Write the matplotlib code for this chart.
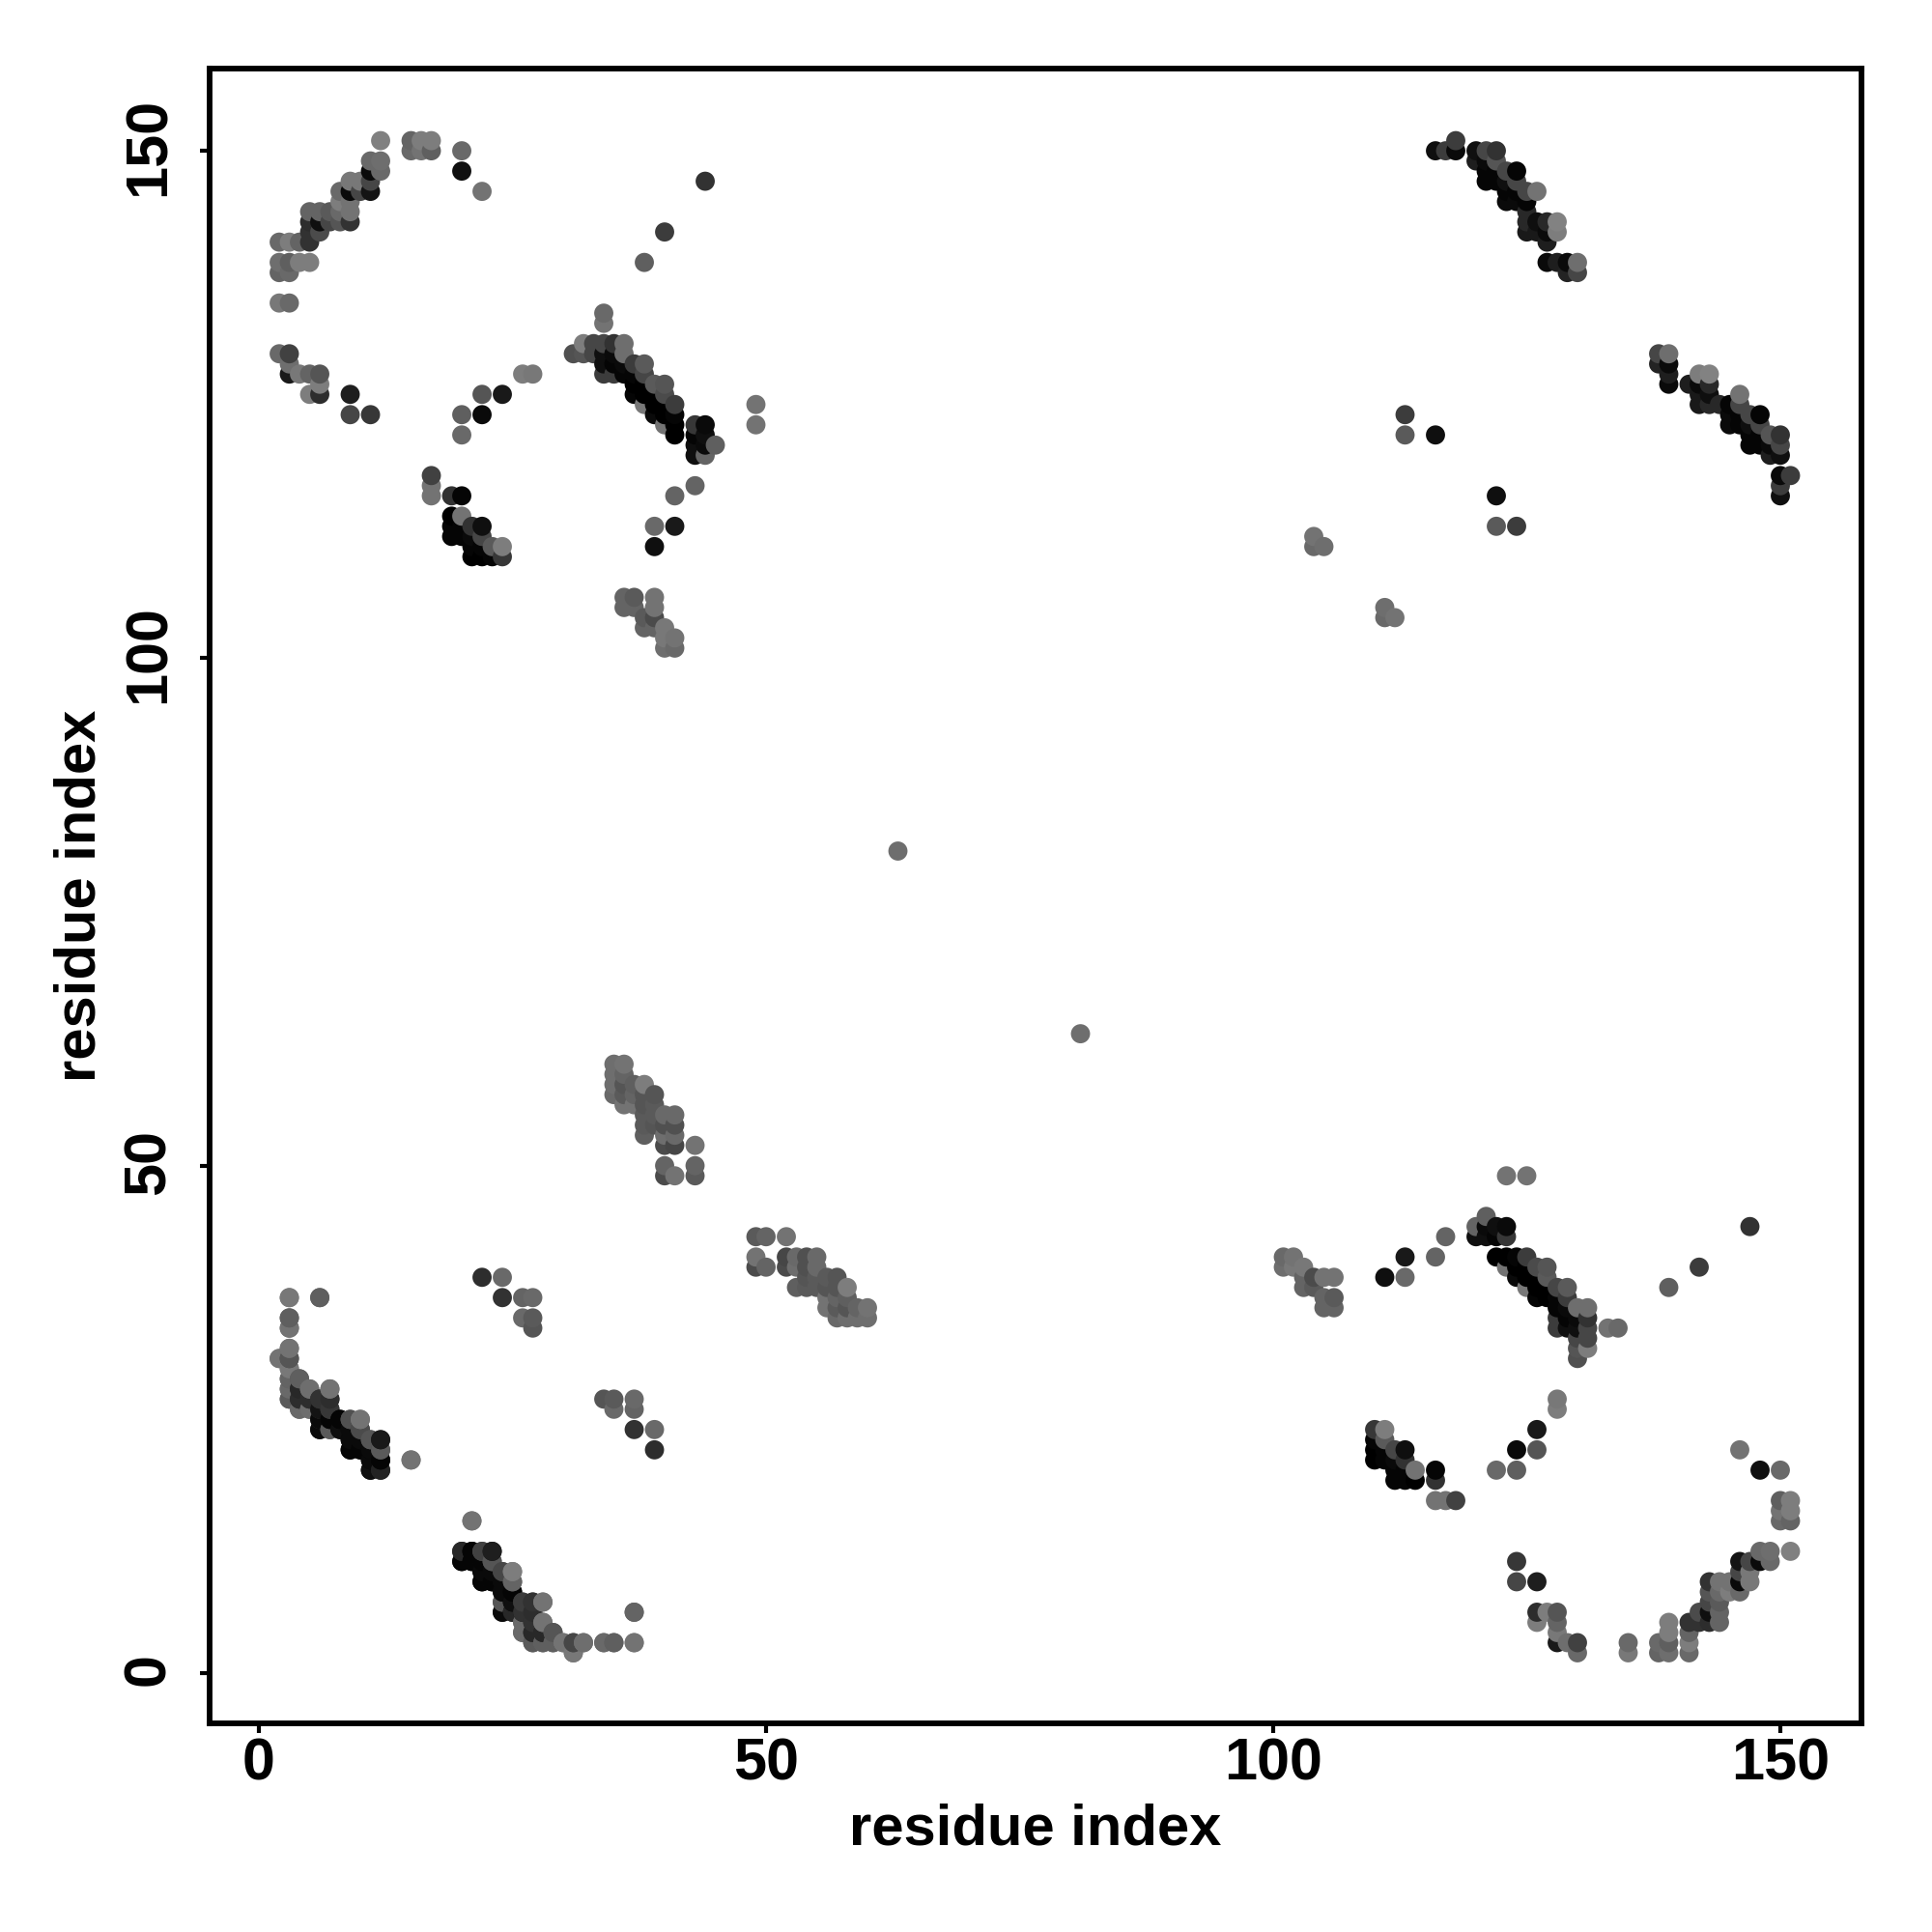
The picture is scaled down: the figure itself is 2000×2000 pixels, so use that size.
import numpy as np
import matplotlib
matplotlib.use('Agg')
import matplotlib.pyplot as plt
from matplotlib.transforms import ScaledTranslation

# contacts as (residue i, residue j, grey level), i < j, map is symmetric
contacts_a = [
    (12,151,128),(15,151,100),(16,151,125),(17,151,125),(15,150,105),(16,150,115),(17,150,95),
    (20,150,105),(20,148,15),(22,146,115),(11,149,105),(12,149,110),(12,148,105),(11,148,10),
    (11,147,70),(11,146,20),(9,147,120),(10,147,120),(8,146,105),(9,146,10),(10,146,70),
    (8,145,125),(9,145,115),(9,144,115),(8,144,105),(7,144,90),(6,144,100),(5,144,100),
    (5,143,45),(6,143,15),(7,143,70),(8,143,85),(9,143,50),(5,142,50),(6,142,75),(5,141,50),
    (4,141,100),(3,141,125),(2,141,105),(2,139,110),(3,139,95),(4,139,125),(5,139,125),
    (2,138,100),(3,138,105),(2,135,120),(3,135,105),(2,130,105),(3,130,65),(3,129,110),
    (3,128,25),(4,128,120),(5,128,100),(6,128,85),(6,127,125),(5,126,125),(6,126,45),
    (9,126,30),(9,124,70),(11,124,55),(22,126,85),(24,126,25),(26,128,125),(27,128,120),
    (20,124,95),(22,124,10),(20,122,105),
]
contacts_b = [
    (34,134,105),(34,133,115),(31,130,80),(32,130,85),(32,131,125),(33,131,70),(34,131,70),
    (35,131,50),(36,131,110),(33,130,70),(34,130,15),(35,130,10),(36,130,110),(34,129,15),
    (35,129,5),(36,129,10),(37,129,60),(38,129,90),(34,128,60),(35,128,60),(36,128,5),
    (37,128,5),(38,128,70),(37,127,0),(38,127,0),(39,127,90),(40,127,85),(37,126,5),
    (38,126,0),(39,126,0),(40,126,75),(38,125,120),(39,125,0),(40,125,0),(41,125,60),
    (39,124,10),(40,124,0),(41,124,5),(40,123,115),(41,123,0),(41,122,0),(43,123,55),
    (44,123,10),(43,122,5),(44,122,15),(43,121,15),(44,121,10),(45,121,95),(43,120,15),
    (44,120,100),(43,117,100),(41,116,100),(39,113,105),(41,113,25),(39,111,15),
    (49,125,115),(49,123,115),(38,139,95),(40,142,60),(44,147,50),
]
contacts_c = [
    (17,118,65),(17,117,115),(17,116,115),(19,116,50),(20,116,5),(19,114,0),(20,114,115),
    (21,113,50),(22,113,15),(19,113,5),(20,113,5),(19,112,5),(20,112,5),(21,112,10),
    (22,112,70),(23,111,90),(24,111,125),(21,111,5),(22,111,5),(21,110,0),(22,110,0),
    (23,110,5),(24,110,55),
]
contacts_d = [
    (36,106,100),(37,106,90),(39,106,115),(36,105,100),(37,105,100),(39,105,115),(38,104,90),
    (39,104,75),(38,103,100),(39,103,100),(40,103,120),(40,102,120),(41,102,115),(40,101,110),
    (41,101,105),(104,112,115),(104,111,105),(105,111,110),(113,124,60),(113,122,90),(116,122,15),
]
contacts_e = [
    (116,150,15),(117,150,60),(118,151,60),(118,150,10),(120,150,15),(121,150,70),(122,150,50),
    (120,149,30),(121,149,10),(122,149,85),(121,148,5),(122,148,5),(123,148,70),(124,148,5),
    (121,147,5),(122,147,5),(123,147,15),(124,147,70),(123,146,5),(124,146,5),(125,146,70),
    (126,146,115),(123,145,10),(124,145,10),(125,145,5),(125,144,40),(125,143,40),(126,143,15),
    (127,143,40),(128,143,130),(128,142,125),(125,142,25),(126,142,25),(127,142,10),(127,141,30),
    (127,139,10),(128,139,30),(129,139,10),(130,139,110),(129,138,35),(130,138,70),
]
contacts_f = [
    (3,37,115),(6,37,100),(3,35,95),(3,34,105),(3,32,110),(2,31,120),(3,31,70),(3,30,115),
    (3,29,95),(4,29,85),(3,28,95),(4,28,40),(5,28,115),(7,28,115),(3,27,90),(4,27,40),
    (5,27,50),(6,27,45),(7,27,50),(4,26,105),(5,26,105),(6,26,50),(7,26,60),(6,25,40),
    (7,25,15),(8,25,5),(9,25,100),(10,25,125),(6,24,10),(7,24,85),(8,24,10),(9,24,10),
    (10,24,70),(9,23,5),(10,23,10),(11,23,85),(12,23,30),(9,22,5),(10,22,10),(11,22,5),
    (12,22,65),(11,21,5),(12,21,5),(11,20,5),(12,20,40),(15,21,115),
]
contacts_g = [
    (21,15,115),(20,12,35),(21,12,5),(22,12,90),(23,12,25),(20,11,15),(21,11,10),(22,11,10),
    (23,11,85),(22,10,5),(23,10,10),(24,10,75),(25,10,115),(22,9,5),(23,9,10),(24,9,10),
    (25,9,80),(24,8,15),(25,8,5),(24,7,90),(25,7,5),(26,7,55),(27,7,45),(28,7,115),(24,6,10),
    (25,6,10),(26,6,20),(27,6,50),(26,5,110),(27,5,45),(28,5,110),(26,4,105),(27,4,45),
    (28,4,40),(29,4,95),(27,3,90),(28,3,105),(29,3,100),(30,3,120),(31,3,85),(32,3,115),
    (34,3,115),(35,3,95),(37,3,120),(31,2,115),(37,6,95),
]
contacts_h = [
    (35,60,110),(36,60,115),(35,59,110),(36,59,100),(35,58,110),(36,58,85),(37,58,95),(38,58,125),
    (35,57,105),(36,57,90),(37,57,100),(38,57,85),(39,57,85),(36,56,115),(37,56,115),(38,56,85),
    (39,56,90),(38,55,90),(39,55,90),(40,55,105),(41,55,105),(38,54,90),(39,54,85),(40,54,80),
    (41,54,80),(38,53,95),(40,53,110),(41,53,105),(40,52,75),(41,52,70),(43,52,115),(40,50,100),
    (40,49,75),(41,49,115),(43,50,100),(43,49,90),
]
contacts_k = [
    (22,39,45),(24,39,105),(24,37,50),(26,37,100),(27,37,105),(26,35,105),(27,35,90),(27,34,85),
    (63,81,110),
]

all_contacts = np.array(contacts_a + contacts_b + contacts_c + contacts_d + contacts_e
                        + contacts_f + contacts_g + contacts_h + contacts_k)
res_i = all_contacts[:, 0]
res_j = all_contacts[:, 1]
shade = all_contacts[:, 2]

tick_vals = [0, 50, 100, 150]

# mirror the contacts, draw column by column like the original loop
x = np.concatenate([res_i, res_j])
y = np.concatenate([res_j, res_i])
c = np.concatenate([shade, shade])
order = np.lexsort((y, x))

plt.rcParams['font.family'] = ['Liberation Sans', 'DejaVu Sans']
plt.rcParams['font.weight'] = 'bold'

fig = plt.figure(figsize=(10, 10), dpi=200)
ax = fig.add_axes([217 / 2000, 216 / 2000, 1710 / 2000, 1713 / 2000])
ax.scatter(x[order], y[order], c=c[order], cmap='gray', vmin=0, vmax=255, s=51, linewidths=0)

ax.set_xlim(-4.86, 158.0)
ax.set_ylim(-4.95, 158.1)
ax.set_xticks(tick_vals)
ax.set_yticks(tick_vals)
ax.tick_params(axis='x', length=3.6, width=1.5, labelsize=22, pad=1.5)
ax.tick_params(axis='y', length=3.6, width=1.5, labelsize=22, pad=8.5)
up = ScaledTranslation(0, 4 / 200, fig.dpi_scale_trans)
for lab in ax.get_yticklabels():
    lab.set_rotation(90)
    lab.set_va('center')
    lab.set_transform(lab.get_transform() + up)
for side in ax.spines.values():
    side.set_linewidth(2.1)

ax.set_xlabel('residue index', fontsize=21.5, fontweight='bold')
ax.set_ylabel('residue index', fontsize=21.5, fontweight='bold')
ax.xaxis.set_label_coords(0.5, -0.048, transform=ax.transAxes)
ax.yaxis.set_label_coords(-0.0623, 0.5, transform=ax.transAxes)

fig.savefig('out.png', dpi=200, facecolor='white')
